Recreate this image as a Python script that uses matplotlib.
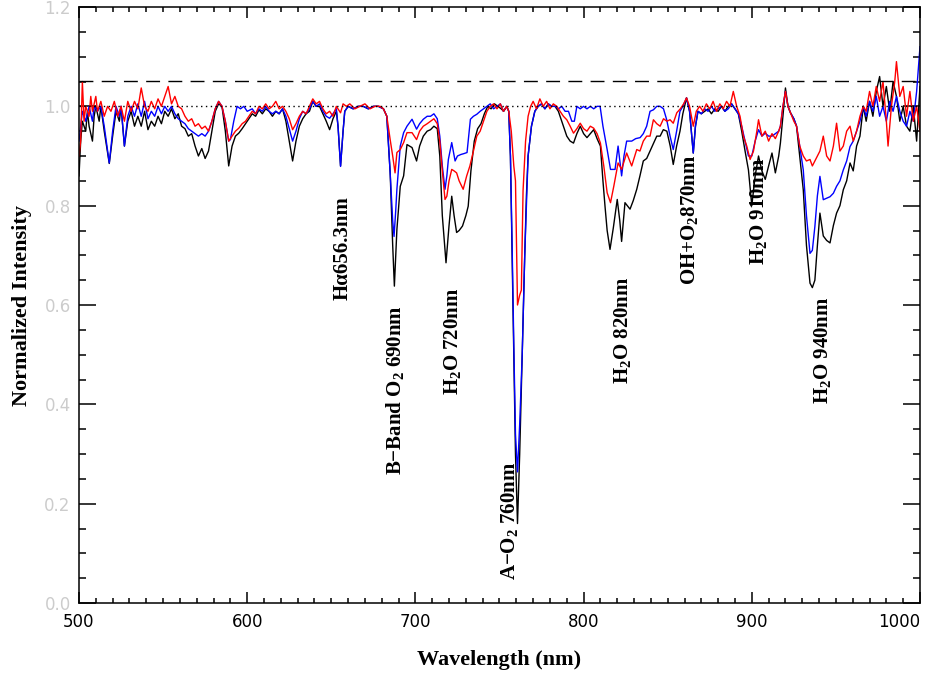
import matplotlib
matplotlib.use("Agg")
import matplotlib.pyplot as plt
from matplotlib.ticker import MultipleLocator

# Normalized spectra: wavelength (nm) and intensity for each of the three curves
wl_black = [500, 501, 502, 504, 505, 506, 508, 509, 510, 512, 513, 515, 518, 520, 522, 524, 525, 527, 529, 531,
            533, 535, 537, 539, 541, 543, 545, 547, 549, 551, 553, 555, 557, 559, 561, 563, 565, 567, 569, 571,
            573, 575, 577, 579, 581, 583, 585, 587, 589, 591, 593, 595, 597, 599, 601, 603, 605, 607, 609, 611,
            613, 615, 617, 619, 621, 623, 625, 627, 629, 631, 633, 635, 637, 639, 641, 643, 645, 647, 649, 651,
            653, 654, 655.5, 657, 658, 660, 663, 666, 669, 672, 675, 678, 681, 683, 685, 686.5, 687.5, 688.3, 689, 691,
            693, 695, 698, 700.7, 702.5, 704.7, 707, 709, 711, 713, 714.5, 716, 718.2, 720, 721.6, 723, 724.5, 726, 728, 730,
            731.4, 733, 735, 737, 739, 741, 743, 745, 747, 749, 751, 752.5, 754.3, 755.5, 756.5, 757.5, 758.5, 759.5, 760.7, 762,
            763.5, 765, 766, 767, 769, 771, 773, 775, 777, 779, 781, 783, 785, 787, 790, 792, 794, 796, 798, 800,
            802, 804, 806, 808, 810, 811.5, 812.7, 814, 815.7, 817.7, 820, 821.5, 822.6, 824.6, 826, 827.6, 829.5, 831.6, 833.5, 835.5,
            837.5, 839.5, 841.5, 843.5, 845.5, 847.4, 849.5, 851.5, 853.3, 855.3, 857.3, 859, 861.2, 863, 865.2, 866.5, 868, 870, 872, 874,
            876, 878, 880, 882, 884, 886, 888, 890, 892, 894, 896, 898, 900, 902, 904, 906, 908, 910, 912, 914,
            916, 917, 918.5, 920, 921.5, 923, 925, 926.6, 928.5, 930.6, 932.5, 934.6, 936, 937.5, 939, 940.5, 942.5, 944.5, 946.5, 948.5,
            950.4, 952.4, 954.4, 956.4, 958.4, 960.3, 962.3, 964.3, 966.3, 968, 970, 972, 974, 976, 978, 980, 982, 984, 986, 988,
            990, 992, 994, 996, 998, 1000]
int_black = [0.86, 0.93, 0.97, 0.95, 0.99, 0.96, 0.93, 0.98, 1.0, 0.97, 1.0, 0.95, 0.885, 0.94, 0.99, 0.97, 1.0, 0.92, 0.97, 0.99,
             0.96, 0.98, 0.96, 0.99, 0.953, 0.97, 0.96, 0.98, 0.965, 0.99, 0.98, 0.995, 0.975, 0.985, 0.96, 0.955, 0.94, 0.945, 0.92, 0.90,
             0.915, 0.895, 0.91, 0.95, 0.99, 1.005, 1.0, 0.95, 0.88, 0.92, 0.94, 0.946, 0.955, 0.965, 0.975, 0.985, 0.98, 0.993, 0.985, 0.995,
             0.99, 0.98, 0.99, 0.985, 0.995, 0.97, 0.93, 0.89, 0.93, 0.96, 0.975, 0.985, 0.99, 1.01, 1.0, 1.0, 0.985, 0.97, 0.953, 0.975,
             0.99, 0.96, 0.88, 0.95, 0.99, 1.0, 0.995, 1.0, 1.0, 0.995, 1.0, 1.0, 0.995, 0.98, 0.866, 0.72, 0.638, 0.70, 0.752, 0.839,
             0.86, 0.923, 0.917, 0.89, 0.92, 0.94, 0.95, 0.953, 0.96, 0.955, 0.90, 0.78, 0.685, 0.76, 0.819, 0.78, 0.746, 0.75, 0.759, 0.78,
             0.799, 0.87, 0.93, 0.955, 0.965, 0.985, 1.0, 0.995, 1.005, 1.0, 0.995, 0.99, 1.0, 0.99, 0.90, 0.70, 0.50, 0.30, 0.16, 0.30,
             0.50, 0.70, 0.82, 0.90, 0.96, 0.99, 1.0, 1.005, 0.995, 1.005, 1.0, 1.0, 0.99, 0.97, 0.94, 0.93, 0.926, 0.945, 0.96, 0.945,
             0.937, 0.945, 0.953, 0.935, 0.92, 0.85, 0.80, 0.75, 0.712, 0.756, 0.8125, 0.77, 0.728, 0.806, 0.80, 0.793, 0.81, 0.833, 0.86, 0.89,
             0.895, 0.91, 0.925, 0.94, 0.94, 0.953, 0.95, 0.92, 0.883, 0.92, 0.95, 0.985, 1.017, 0.99, 0.906, 0.96, 0.99, 0.985, 0.99, 0.995,
             0.985, 0.995, 0.99, 1.0, 0.99, 1.0, 1.005, 0.995, 0.985, 0.95, 0.91, 0.872, 0.80, 0.86, 0.90, 0.87, 0.853, 0.88, 0.906, 0.866,
             0.90, 0.926, 0.98, 1.037, 1.0, 0.987, 0.975, 0.96, 0.90, 0.832, 0.72, 0.644, 0.635, 0.65, 0.72, 0.785, 0.739, 0.73, 0.725, 0.76,
             0.785, 0.80, 0.832, 0.85, 0.886, 0.87, 0.92, 0.94, 1.0, 0.97, 1.01, 0.98, 1.03, 1.06, 1.0, 1.04, 0.99, 1.05, 1.02, 0.97,
             1.0, 0.96, 0.95, 1.0, 0.93, 1.04]

wl_red = [500, 501, 502, 503, 504, 506, 507, 508, 510, 511, 513, 515, 517, 519, 521, 523, 525, 527, 529, 531,
          533, 535, 537, 539, 541, 543, 545, 547, 549, 551, 553, 555, 557, 559, 561, 563, 565, 567, 569, 571,
          573, 575, 577, 579, 581, 583, 585, 587, 589, 591, 593, 595, 597, 599, 601, 603, 605, 607, 609, 611,
          613, 615, 617, 619, 621, 623, 625, 627, 629, 631, 633, 635, 637, 639, 641, 643, 645, 647, 649, 651,
          653, 655.5, 657, 659, 661, 664, 667, 670, 673, 676, 679, 681, 683, 685, 686.5, 687.9, 689, 691, 693, 695,
          698, 700.7, 702.5, 704.7, 707, 709, 711, 713, 714.5, 716, 717.6, 718.7, 720, 721.6, 723, 724.5, 726, 728.4, 730.5, 732.4,
          734.5, 736.5, 738.5, 740.5, 742.5, 744.5, 746.5, 748.5, 750.5, 752.3, 754.3, 755.5, 757, 758.5, 759.5, 760.7, 762, 763, 764, 765.5,
          767, 768.5, 770, 772, 774, 776, 778, 780, 782, 784, 786, 788, 790, 792, 794, 796, 798, 800, 802, 804,
          806, 808, 810, 812, 814, 816, 818, 820.5, 822.6, 825.6, 828.6, 831.6, 833.5, 835.5, 837.5, 839.5, 841.5, 843.5, 845.5, 847.5,
          849.5, 851.4, 853.3, 855.4, 857.5, 859.5, 861.2, 863, 865.2, 867, 869, 871, 873, 875, 877, 879, 881, 883, 885, 887,
          889, 891, 893, 895, 897, 899, 901, 903, 904, 906, 908, 910, 912, 914, 916, 917, 918.5, 920, 921.5, 923,
          925, 926.6, 928.5, 930.6, 932.5, 934.6, 936, 937.5, 939, 940.5, 942.5, 944.5, 946.5, 948.5, 950.4, 952.4, 954.4, 956.4, 958.4, 960.3,
          962.3, 964.3, 966.3, 968, 970, 972, 974, 976, 978, 980, 981, 983, 985, 986, 988, 990, 992, 994, 996, 998,
          1000]
int_red = [0.90, 0.93, 1.05, 0.97, 1.0, 0.98, 1.02, 0.99, 1.02, 0.99, 1.01, 0.98, 1.0, 0.99, 1.01, 0.98, 1.0, 0.97, 1.01, 0.99,
           1.01, 0.995, 1.037, 1.0, 0.99, 1.01, 0.995, 1.015, 1.0, 1.02, 1.04, 1.005, 1.02, 1.0, 0.995, 0.98, 0.97, 0.975, 0.96, 0.965,
           0.955, 0.96, 0.95, 0.97, 0.995, 1.01, 1.0, 0.97, 0.93, 0.94, 0.95, 0.956, 0.965, 0.97, 0.98, 0.99, 0.985, 1.0, 0.995, 1.005,
           0.995, 1.0, 1.01, 0.995, 1.0, 0.99, 0.975, 0.953, 0.965, 0.98, 0.99, 0.985, 1.0, 1.015, 1.005, 1.01, 0.995, 0.985, 0.99, 0.98,
           1.0, 0.987, 1.005, 1.0, 1.005, 0.995, 1.0, 1.005, 0.995, 1.0, 1.0, 0.995, 0.98, 0.933, 0.90, 0.866, 0.907, 0.913, 0.927, 0.947,
           0.947, 0.933, 0.95, 0.96, 0.965, 0.97, 0.975, 0.965, 0.93, 0.87, 0.8125, 0.819, 0.85, 0.873, 0.87, 0.866, 0.85, 0.833, 0.86, 0.88,
           0.91, 0.94, 0.95, 0.97, 0.99, 1.0, 1.005, 0.995, 1.005, 0.99, 1.0, 0.99, 0.95, 0.88, 0.85, 0.60, 0.62, 0.63, 0.83, 0.93,
           0.98, 1.0, 1.01, 0.995, 1.015, 1.0, 1.01, 0.995, 1.005, 1.0, 0.99, 0.98, 0.973, 0.96, 0.946, 0.955, 0.966, 0.955, 0.95, 0.96,
           0.956, 0.945, 0.926, 0.88, 0.826, 0.806, 0.84, 0.886, 0.873, 0.906, 0.88, 0.913, 0.91, 0.93, 0.94, 0.94, 0.973, 0.965, 0.96, 0.975,
           0.97, 0.973, 0.966, 0.987, 0.995, 1.005, 1.017, 1.0, 0.96, 0.99, 1.0, 0.99, 1.005, 0.995, 1.01, 0.99, 1.005, 0.995, 1.01, 1.0,
           1.03, 1.0, 0.98, 0.94, 0.92, 0.893, 0.91, 0.95, 0.973, 0.94, 0.95, 0.93, 0.945, 0.935, 0.95, 0.96, 1.0, 1.03, 1.0, 0.987,
           0.97, 0.96, 0.92, 0.90, 0.89, 0.893, 0.88, 0.89, 0.90, 0.91, 0.94, 0.90, 0.89, 0.92, 0.966, 0.91, 0.92, 0.95, 0.96, 0.93,
           0.95, 0.98, 1.0, 0.99, 1.03, 1.0, 1.04, 1.01, 1.05, 0.97, 0.92, 1.0, 1.05, 1.09, 1.02, 1.04, 0.98, 1.03, 0.97, 1.0,
           0.95]

wl_blue = [500, 501, 502, 504, 506, 508, 509, 511, 513, 515, 518, 520, 522, 524, 525, 527, 529, 531, 533, 535,
           537, 539, 541, 543, 545, 547, 549, 551, 553, 555, 557, 559, 561, 563, 565, 567, 569, 571, 573, 575,
           577, 579, 581, 583, 585, 587, 589, 590, 592, 594, 596, 598, 600, 603, 605, 607, 609, 611, 613, 615,
           617, 619, 621, 623, 625, 627, 629, 631, 633, 635, 637, 639, 641, 643, 645, 647, 649, 651, 653, 654,
           655.5, 657, 658, 660, 663, 666, 669, 672, 675, 678, 681, 683, 685, 686.5, 687.3, 688.3, 689, 691, 693, 695,
           698, 700.7, 702.5, 704.7, 707, 709, 711, 713, 714.5, 716, 717.6, 718.7, 719.6, 721.6, 723.6, 725, 727, 729, 730.7, 732.7,
           734.5, 736.5, 738.5, 740.5, 742.5, 744.5, 746.5, 748.5, 750.5, 752.3, 754.3, 755.5, 756.5, 757.5, 758.5, 759.5, 760.7, 762, 763.5, 765,
           766, 767, 769, 771, 773, 775, 777, 779, 781, 783, 785, 787, 789, 791, 793, 794.5, 796, 798, 800, 802,
           804, 806, 808, 809.8, 811.5, 814, 816, 818.7, 820.5, 822.6, 824, 825.6, 828.6, 831, 833.6, 835.5, 837.5, 839.5, 841.5, 843.5,
           845.5, 847.5, 849.4, 851.4, 853.3, 855.3, 857.3, 859, 861.2, 863, 865.2, 866.5, 868, 870, 872, 874, 876, 878, 880, 882,
           884, 886, 888, 890, 892, 894, 896, 898, 900, 902, 904, 906, 908, 910, 912, 914, 916, 917, 918.5, 920,
           921.5, 923, 925, 926.6, 928.5, 930.6, 932.5, 934.6, 936, 937.5, 939, 940.5, 942.5, 944.5, 946.5, 948.5, 950.4, 952.4, 954.4, 956.4,
           958.4, 960.3, 962.3, 964.3, 966.3, 968, 970, 972, 974, 976, 978, 980, 982, 984, 986, 988, 990, 992, 994, 996,
           998, 1000]
int_blue = [0.93, 0.96, 0.99, 0.97, 1.0, 0.97, 1.0, 0.99, 1.0, 0.96, 0.886, 0.95, 1.0, 0.98, 1.0, 0.92, 0.98, 1.0, 0.98, 1.005,
            0.98, 1.01, 0.975, 0.99, 0.98, 1.0, 0.985, 1.0, 0.99, 1.0, 0.985, 0.975, 0.97, 0.965, 0.955, 0.95, 0.945, 0.94, 0.945, 0.94,
            0.95, 0.97, 0.995, 1.01, 1.0, 0.97, 0.93, 0.933, 0.97, 1.0, 0.995, 1.0, 0.99, 0.995, 0.985, 0.995, 0.99, 1.0, 0.99, 0.985,
            0.99, 0.985, 0.995, 0.98, 0.955, 0.93, 0.95, 0.975, 0.99, 0.985, 0.995, 1.01, 1.0, 1.005, 0.99, 0.98, 0.976, 0.985, 0.995, 0.96,
            0.879, 0.95, 0.99, 1.0, 0.995, 1.0, 1.0, 0.995, 1.0, 1.0, 0.995, 0.98, 0.866, 0.77, 0.738, 0.79, 0.833, 0.92, 0.947, 0.96,
            0.974, 0.954, 0.965, 0.974, 0.98, 0.98, 0.985, 0.975, 0.94, 0.88, 0.833, 0.86, 0.893, 0.927, 0.89, 0.90, 0.903, 0.905, 0.907, 0.974,
            0.98, 0.984, 0.99, 0.995, 1.0, 1.005, 0.995, 1.0, 1.005, 0.99, 1.0, 0.99, 0.90, 0.72, 0.52, 0.34, 0.264, 0.36, 0.50, 0.70,
            0.80, 0.90, 0.96, 0.99, 1.0, 1.005, 0.995, 1.005, 1.0, 1.0, 0.995, 1.0, 0.99, 0.99, 0.97, 0.97, 1.0, 0.995, 1.0, 0.995,
            1.0, 0.995, 1.0, 1.0, 0.96, 0.913, 0.873, 0.873, 0.92, 0.86, 0.90, 0.93, 0.93, 0.935, 0.937, 0.945, 0.96, 0.99, 0.993, 1.0,
            1.0, 0.995, 0.973, 0.94, 0.913, 0.95, 0.99, 1.0, 1.017, 0.99, 0.906, 0.96, 0.99, 0.985, 0.995, 0.99, 1.0, 0.99, 0.995, 1.0,
            0.99, 0.995, 1.005, 0.995, 0.985, 0.96, 0.93, 0.90, 0.90, 0.93, 0.953, 0.94, 0.946, 0.94, 0.94, 0.945, 0.95, 0.96, 1.0, 1.03,
            1.0, 0.987, 0.975, 0.96, 0.92, 0.872, 0.78, 0.704, 0.71, 0.758, 0.82, 0.859, 0.812, 0.815, 0.818, 0.825, 0.839, 0.85, 0.872, 0.89,
            0.919, 0.93, 0.95, 0.97, 1.0, 0.98, 1.01, 0.99, 1.02, 0.98, 1.0, 0.97, 1.01, 0.99, 1.02, 0.99, 0.97, 0.96, 0.99, 0.97,
            1.03, 1.12]

# Absorption band labels: text, wavelength, bottom of the text
band_labels = ["H\u03b1656.3nm", "B\u2212Band O$_2$ 690nm", "H$_2$O 720nm", "A\u2212O$_2$ 760nm",
               "H$_2$O 820nm", "OH+O$_2$870nm", "H$_2$O 910nm", "H$_2$O 940nm"]
band_wl = [657, 688, 722, 756, 823, 863, 904, 942]
band_y = [0.611, 0.258, 0.419, 0.046, 0.44, 0.641, 0.681, 0.40]

x_ticks = [500, 600, 700, 800, 900, 1000]
y_ticks = [0.0, 0.2, 0.4, 0.6, 0.8, 1.0, 1.2]

plt.rcParams['mathtext.fontset'] = 'custom'
plt.rcParams['mathtext.rm'] = 'Liberation Serif:bold'
plt.rcParams['mathtext.it'] = 'Liberation Serif:italic:bold'
plt.rcParams['mathtext.bf'] = 'Liberation Serif:bold'
plt.rcParams['mathtext.default'] = 'rm'

fig = plt.figure(figsize=(9.35, 6.79), dpi=100)
ax = fig.add_axes([79 / 935, 1 - 603 / 679, 841 / 935, 596 / 679])

ax.plot(wl_black, int_black, color='black', lw=1.0)
ax.plot(wl_blue, int_blue, color='#0000ff', lw=1.0)
ax.plot(wl_red, int_red, color='#ff0000', lw=1.0)

ax.axhline(1.052, color='black', lw=1.0, ls=(0, (10, 6)))
ax.axhline(1.0, color='black', lw=1.0, ls=(0, (1, 2.5)))

for txt, x, y in zip(band_labels, band_wl, band_y):
    ax.text(x, y, txt, rotation=90, ha='center', va='bottom',
            fontsize=15, fontweight='bold', family='Liberation Serif')

ax.set_xlim(500, 1000)
ax.set_ylim(0, 1.2)
ax.set_xticks(x_ticks)
ax.xaxis.set_minor_locator(MultipleLocator(10))
ax.set_yticks(y_ticks)
ax.set_yticklabels([f'{v:.1f}' for v in y_ticks])
ax.yaxis.set_minor_locator(MultipleLocator(0.05))

ax.tick_params(which='both', direction='in', top=True, right=True, width=1.1)
ax.tick_params(axis='x', which='major', length=8, labelsize=12, pad=7)
ax.tick_params(axis='x', which='minor', length=3.5)
ax.tick_params(axis='y', which='major', length=12, labelsize=12, labelcolor='#cccccc', pad=6)
ax.tick_params(axis='y', which='minor', length=5)
for sp in ax.spines.values():
    sp.set_linewidth(1.1)

# the last wavelength label sits against the right edge
ax.xaxis.get_major_ticks()[-1].label1.set_horizontalalignment('right')

ax.set_xlabel('Wavelength (nm)', fontsize=16, fontweight='bold', family='Liberation Serif', labelpad=14)
ax.set_ylabel('Normalized Intensity', fontsize=16, fontweight='bold', family='Liberation Serif', labelpad=9)

fig.savefig('out.png', dpi=100)
